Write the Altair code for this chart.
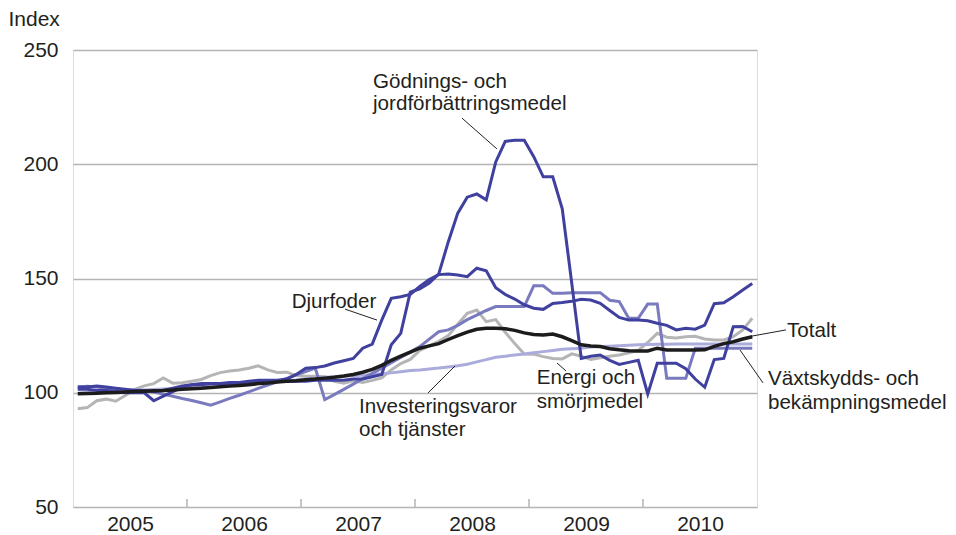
import altair as alt
import pandas as pd

# ---- data (monthly index values, Jan 2005 - Dec 2010) ----
years = [2005, 2006, 2007, 2008, 2009, 2010]
year_label_pos = [2005.5, 2006.5, 2007.5, 2008.5, 2009.5, 2010.5]
year_ticks = [2006, 2007, 2008, 2009, 2010]
y_ticks = [50, 100, 150, 200, 250]

godnings = [101.5, 101.5, 101, 101, 100.5, 100, 100, 100, 96.5, 98.5, 100.5, 102.5,
            103.5, 103.5, 104, 104, 104, 104, 104.5, 104.5, 104.5, 105, 105, 105,
            105, 105.5, 105.5, 105.5, 105.5, 106, 106, 107, 108, 121, 126, 144,
            145.5, 148, 152, 166, 178.6, 185.6, 187, 184.4, 201, 210, 210.5, 210.5,
            203.3, 194.5, 194.5, 180.5, 148, 115, 116, 116.5, 114.2, 112.4, 113.3, 114.2,
            99.5, 112.9, 112.9, 112.9, 110.5, 106, 102.4, 114.5, 115, 128.9, 129, 126.7]

djurfoder = [102.5, 102.5, 103, 102.5, 102, 101.5, 101, 101, 100.5, 101, 102, 103,
             103.5, 104, 104, 104, 104.5, 104.5, 105, 105.5, 105.5, 105.5, 106, 108,
             110.7, 111, 111.7, 113, 114, 115, 119.5, 121.3, 131.8, 141.3, 142, 143,
             146.5, 149.5, 151.7, 152, 151.5, 150.8, 154.5, 153.4, 146, 143, 141, 138.5,
             137, 136.5, 139.1, 139.5, 140, 140.9, 140.6, 139.1, 136, 133, 131.8, 131.8,
             131.5, 130.4, 129.5, 127.5, 128.2, 127.8, 129.6, 139, 139.4, 142, 145, 147.8]

vaxtskydd = [102.5, 102.8, 102.5, 102, 101.5, 101.3, 101.2, 101, 100.3, 99.4, 98.5, 97.5,
             96.6, 95.6, 94.6, 96, 97.5, 98.9, 100.4, 101.9, 103.4, 104.8, 106.3, 107.8,
             109.3, 110.8, 97, 99.2, 101.5, 103.8, 106.2, 108.5, 110.8, 113.2, 115.5, 117.8,
             120.2, 123.5, 126.7, 127.5, 129.5, 132, 134, 136, 137.7, 137.7, 137.7, 137.7,
             146.8, 146.8, 143.5, 143.5, 143.8, 143.8, 143.8, 143.8, 140.5, 139.9, 132.6, 132.6,
             138.8, 138.8, 106.3, 106.3, 106.3, 119.5, 119.5, 119.5, 119.5, 119.5, 119.5, 119.5]

energi = [93, 93.5, 96.5, 97.2, 96.3, 98.8, 101.5, 103, 104, 106.5, 104.2, 104.4,
          105, 105.8, 107.5, 108.8, 109.5, 110, 110.7, 111.8, 110, 108.9, 109, 107.5,
          107.2, 107.2, 107, 105, 104.2, 105.2, 104.5, 105.4, 106.5, 110, 112.8, 114.6,
          118.5, 120.5, 122.5, 125, 130, 134.8, 136.2, 131.1, 132, 126.5, 121.5, 117,
          116.9, 115.8, 115, 114.8, 117, 116, 114.6, 115.3, 116, 116.5, 117.5, 118.5,
          122, 126, 124.3, 124, 124.5, 124.7, 123.5, 123.1, 123.1, 124.5, 127.5, 132.6]

invest = [99.8, 100, 100.2, 100.4, 100.6, 100.8, 101, 101.2, 101.4, 101.6, 101.8, 102,
          102.3, 102.6, 102.9, 103.2, 103.5, 103.8, 104.1, 104.4, 104.7, 105, 105.3, 105.6,
          106, 106.4, 106.8, 107, 107.2, 107.5, 107.7, 108, 108.3, 108.7, 109.2, 109.7,
          110, 110.4, 110.8, 111.3, 111.8, 112.5, 113.5, 114.5, 115.5, 116, 116.5, 117,
          117.5, 118, 118.5, 119, 119.3, 119.5, 120, 120.2, 120.4, 120.6, 120.8, 121,
          121.1, 121.2, 121.2, 121.3, 121.3, 121.3, 121.3, 121.3, 121.3, 121.3, 121.3, 121.3]

totalt = [99.6, 99.7, 99.8, 100, 100.1, 100.3, 100.5, 100.7, 100.9, 101, 101.2, 101.5,
          101.8, 102, 102.3, 102.6, 102.9, 103.2, 103.5, 104, 104.3, 104.7, 105, 105.3,
          105.7, 106, 106.4, 106.8, 107.3, 108, 109, 110.2, 112, 114.2, 116, 117.8,
          119.5, 120.5, 121.5, 123.3, 125, 126.5, 127.8, 128.2, 128.2, 128, 127.3, 126.2,
          125.5, 125.3, 125.7, 124.5, 122.8, 121, 120.5, 120.2, 119.3, 118.8, 118.4, 118.3,
          118.3, 119.5, 118.7, 118.7, 118.7, 118.7, 118.8, 120.3, 121.5, 122.3, 123.5, 124.5]

# annotation texts (left edge x, baseline y in data units)
label_text = ["Gödnings- och", "jordförbättringsmedel", "Djurfoder", "Totalt",
              "Energi och", "smörjmedel", "Investeringsvaror", "och tjänster",
              "Växtskydds- och", "bekämpningsmedel"]
label_x = [2007.632, 2007.632, 2006.918, 2011.263, 2009.068, 2009.068,
           2007.509, 2007.509, 2011.096, 2011.096]
label_y = [233.2, 223.7, 137.0, 124.4, 103.8, 93.3, 91.0, 80.9, 103.4, 93.1]

# leader lines
lead_x = [2008.412, 2007.386, 2010.956, 2009.246, 2008.351, 2010.851]
lead_y = [220.2, 136.6, 124.8, 113.0, 111.7, 118.7]
lead_x2 = [2008.719, 2007.667, 2011.254, 2009.325, 2008.114, 2011.053]
lead_y2 = [206.7, 131.8, 127.5, 109.5, 99.9, 104.3]

FONT = "Liberation Sans"
TXT = "#231f20"
GRID = "#b4b4b4"

t = [2005 + (i + 0.5) / 12 for i in range(72)]

x_scale = alt.Scale(domain=[2005, 2011], nice=False, zero=False)
y_scale = alt.Scale(domain=[50, 250], nice=False, zero=False)

x_axis = alt.Axis(values=year_label_pos, labelExpr="floor(datum.value)", ticks=False,
                  grid=False, domain=False, labelPadding=6, title=None,
                  labelFontSize=21, labelColor=TXT, labelFont=FONT)
y_axis = alt.Axis(values=y_ticks, grid=True, gridColor=GRID, gridWidth=1.5, ticks=False,
                  domain=False, labelPadding=15, labelFontSize=21, labelColor=TXT,
                  labelFont=FONT, title="Index", titleAngle=0, titleAlign="left",
                  titleBaseline="alphabetic", titleX=-65, titleY=-25,
                  titleFontWeight="normal", titleFontSize=21, titleColor=TXT,
                  titleFont=FONT)


def line_layer(values, color, width):
    df = pd.DataFrame({"t": t, "v": values})
    return alt.Chart(df).mark_line(color=color, strokeWidth=width).encode(
        x=alt.X("t:Q", scale=x_scale, axis=x_axis),
        y=alt.Y("v:Q", scale=y_scale, axis=y_axis),
    )


tick_df = pd.DataFrame({"t": year_ticks, "v": [50] * 5, "v2": [53.5] * 5})
ticks = alt.Chart(tick_df).mark_rule(color=GRID, strokeWidth=1.5).encode(
    x=alt.X("t:Q", scale=x_scale, axis=x_axis),
    y=alt.Y("v:Q", scale=y_scale, axis=y_axis),
    y2="v2:Q",
)

lead_df = pd.DataFrame({"x": lead_x, "y": lead_y, "x2": lead_x2, "y2": lead_y2})
leaders = alt.Chart(lead_df).mark_rule(color="#222222", strokeWidth=1).encode(
    x=alt.X("x:Q", scale=x_scale, axis=x_axis),
    y=alt.Y("y:Q", scale=y_scale, axis=y_axis),
    x2="x2:Q", y2="y2:Q",
)

lab_df = pd.DataFrame({"x": label_x, "y": label_y, "text": label_text})
labels = alt.Chart(lab_df).mark_text(align="left", baseline="alphabetic", fontSize=20.6,
                                     font=FONT, color=TXT).encode(
    x=alt.X("x:Q", scale=x_scale, axis=x_axis),
    y=alt.Y("y:Q", scale=y_scale, axis=y_axis),
    text="text:N",
)

chart = alt.layer(
    ticks,
    line_layer(energi, "#b5b5b5", 3),
    line_layer(invest, "#ababdc", 3),
    line_layer(vaxtskydd, "#7a7abf", 3),
    line_layer(godnings, "#40409f", 3),
    line_layer(djurfoder, "#40409f", 3),
    line_layer(totalt, "#1c1c1c", 3.5),
    leaders,
    labels,
).properties(
    width=684, height=457,
    autosize=alt.AutoSizeParams(type="none"),
    padding={"left": 65, "top": 42, "right": 191, "bottom": 27},
).configure_view(
    stroke=GRID, strokeWidth=1.5
).configure(font=FONT, background="white")

chart.save("out.html", embed_options={"renderer": "svg", "actions": False})
